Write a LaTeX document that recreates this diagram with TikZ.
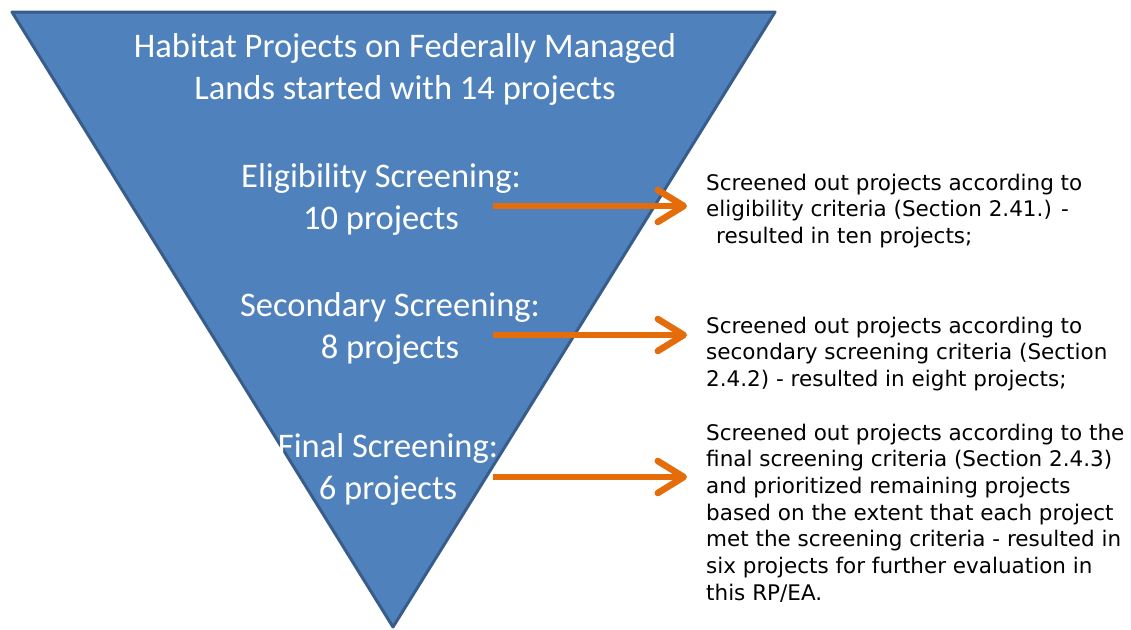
\documentclass[tikz,border=0pt]{standalone}
\usepackage{fontspec}
\setmainfont{Carlito}
\newfontfamily\notefont{DejaVu Sans}
\usetikzlibrary{positioning,arrows.meta,calc}
\definecolor{funnelblue}{HTML}{4F81BD}
\definecolor{funneledge}{HTML}{385D8A}
\definecolor{arroworange}{HTML}{E46C0A}
\tikzset{
    funnel/.style = {
        draw=funneledge,
        fill=funnelblue,
        line width=3pt,
        line join=round
    },
    stage/.style = {
        text=white,
        align=center,
        font=\fontsize{34.5}{42}\selectfont,
        inner sep=0pt
    },
    result/.style = {
        anchor=west,
        align=left,
        font=\notefont\fontsize{21.5}{26.7}\selectfont,
        inner sep=0pt
    },
    flow/.style = {
        draw=arroworange,
        line width=6.5pt,
        -{Straight Barb[length=26pt,width=32pt,line cap=round,line join=round]}
    },
}

\begin{document}
\begin{tikzpicture}[x=1pt,y=-1pt]
            \useasboundingbox (0,0) rectangle (1131,629);

            \path[funnel] (12,12) -- (775,12) -- (393,627) -- cycle;

            \node[stage] (start) at (405,69) {Habitat Projects on Federally Managed\\Lands started with 14 projects};
            \node[stage] (elig) at (381,199) {Eligibility Screening:\\10 projects};
            \node[stage] (second) at (390,328) {Secondary Screening:\\8 projects};
            \node[stage] (final) at (388,469) {Final Screening:\\6 projects};

            \node[result] (desc1) at (706,211) {Screened out projects according to\\eligibility criteria (Section 2.41.) -\\\hspace{10pt}resulted in ten projects;};
            \node[result] (desc2) at (706,354) {Screened out projects according to\\secondary screening criteria (Section\\2.4.2) - resulted in eight projects;};
            \node[result] (desc3) at (706,513) {Screened out projects according to the\\final screening criteria (Section 2.4.3)\\and prioritized remaining projects\\based on the extent that each project\\met the screening criteria - resulted in\\six projects for further evaluation in\\this RP/EA.};

            \coordinate (from1) at (493,206);
            \coordinate (from2) at (493,335);
            \coordinate (from3) at (493,477);

            \path[flow] (from1) -- ($(from1 -| desc1.west)+(-19,0)$);
            \path[flow] (from2) -- ($(from2 -| desc2.west)+(-19,0)$);
            \path[flow] (from3) -- ($(from3 -| desc3.west)+(-19,0)$);

        \end{tikzpicture}
\end{document}
